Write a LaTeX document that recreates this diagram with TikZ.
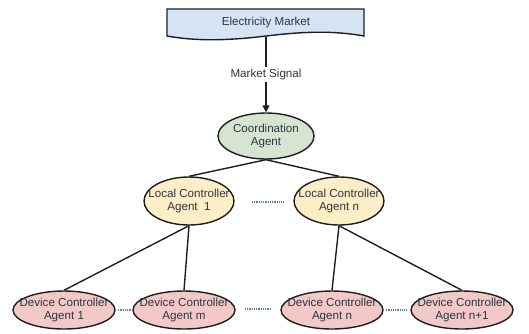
\documentclass[tikz,border=0pt]{standalone}
\usepackage{fontspec}
\setmainfont{Liberation Sans}
\usetikzlibrary{shapes.geometric,arrows.meta}
\definecolor{txt}{HTML}{2E3440}
\definecolor{bluefill}{HTML}{D4E4F2}
\definecolor{greenfill}{HTML}{D5E5D2}
\definecolor{yellowfill}{HTML}{FCEFC8}
\definecolor{pinkfill}{HTML}{F2C9C6}
\definecolor{dotcol}{HTML}{5E7FA0}
\definecolor{edge}{HTML}{1E1E1E}
\tikzset{
  lbl/.style={text=txt, font=\fontsize{11.6}{13}\selectfont},
  agent/.style={ellipse, draw=edge, line width=1.4pt, inner sep=0pt},
  coordag/.style={agent, fill=greenfill, minimum width=96pt, minimum height=46pt},
  localag/.style={agent, fill=yellowfill, minimum width=90pt, minimum height=48pt},
  deviceag/.style={agent, fill=pinkfill, minimum width=102pt, minimum height=38pt},
  txt in/.style={label={[lbl, align=center, inner sep=0pt]center:#1}},
  link/.style={draw=edge, line width=1.4pt},
  dots/.style={draw=dotcol, line width=1.3pt, dash pattern=on 1pt off 0.8pt},
}
\begin{document}
\begin{tikzpicture}[x=1pt,y=-1pt]
\useasboundingbox (0,0) rectangle (529,333);
% banner
\draw[draw=edge, line width=1.4pt, fill=bluefill]
  (167,9) -- (364,9) -- (364,36)
  .. controls (330,30) and (300,32) .. (266,36)
  .. controls (225,41) and (195,41) .. (167,36) -- cycle;
\node[lbl] (market) at (266,22) {Electricity Market};
\coordinate (bannerbot) at (266,37);
% nodes
\node[coordag, txt in={Coordination\\Agent}] (coord) at (266,136) {};
\node[localag, txt in={Local Controller\\Agent\ \ 1}] (lca1) at (189,201) {};
\node[localag, txt in={Local Controller\\Agent n}] (lcan) at (339,201) {};
\node[deviceag, txt in={Device Controller\\Agent 1}] (dca1) at (64,310) {};
\node[deviceag, txt in={Device Controller\\Agent m}] (dcam) at (184,310) {};
\node[deviceag, txt in={Device Controller\\Agent n}] (dcan) at (332,310) {};
\node[deviceag, txt in={Device Controller\\Agent n+1}] (dcan1) at (462,310) {};
% arrow
\draw[link, -{Triangle[length=7pt,width=7pt]}] (bannerbot) -- (coord.north)
  node[midway, fill=white, inner sep=2pt, lbl] (sig) {Market Signal};
% links
\draw[link] (coord.south) -- (lca1.north);
\draw[link] (coord.south) -- (lcan.north);
\draw[link] (lca1.south) -- (dca1.north);
\draw[link] (lca1.south) -- (dcam.north);
\draw[link] (lcan.south) -- (dcan.north);
\draw[link] (lcan.south) -- (dcan1.north);
% dotted
\coordinate (d1a) at (252,202); \coordinate (d1b) at (283,202);
\draw[dots] (d1a) -- (d1b);
\draw[dots, shorten <=2pt, shorten >=1pt] (dca1.east) -- (dcam.west);
\coordinate (d2a) at (245,309); \coordinate (d2b) at (272,309);
\draw[dots] (d2a) -- (d2b);
\draw[dots, shorten <=2pt, shorten >=4pt] (dcan.east) -- (dcan1.west);
\end{tikzpicture}
\end{document}
